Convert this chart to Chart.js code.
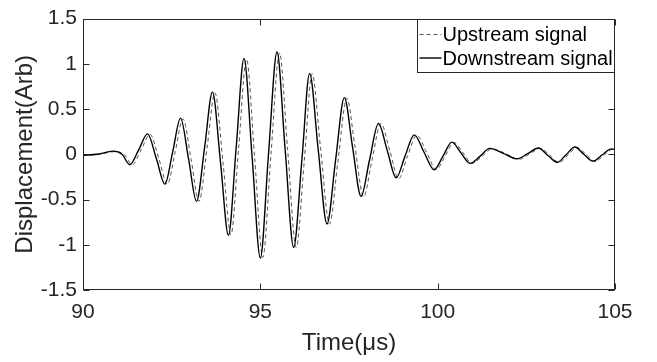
<!DOCTYPE html>
<html>
<head>
<meta charset="utf-8">
<script src="https://cdn.jsdelivr.net/npm/chart.js@4/dist/chart.umd.min.js"></script>
<style>
  html, body { margin: 0; padding: 0; background: #ffffff; }
  #c { display: block; }
</style>
</head>
<body>
<canvas id="c" width="657" height="362"></canvas>
<script>
// ---- Data ----
const seriesNames = ['Upstream signal', 'Downstream signal'];

// Upstream (dashed) signal: time (µs) and displacement (Arb)
const upTime = [90.0, 90.45, 90.9, 91.16, 91.39, 91.64, 91.89, 92.14, 92.38, 92.6,
  92.82, 93.05, 93.27, 93.5, 93.72, 93.95, 94.17, 94.39, 94.61, 94.84,
  95.07, 95.3, 95.54, 95.77, 96.01, 96.24, 96.46, 96.7, 96.95, 97.19,
  97.44, 97.67, 97.91, 98.15, 98.4, 98.65, 98.9, 99.15, 99.41, 99.69,
  99.96, 100.21, 100.46, 100.71, 100.97, 101.26, 101.53, 101.91, 102.29, 102.61,
  102.9, 103.16, 103.43, 103.68, 103.93, 104.18, 104.44, 104.7, 104.96, 105.0];
const upValue = [-0.01, 0.0, 0.03, 0.0, -0.115, 0.05, 0.22, -0.05, -0.33, 0.03,
  0.39, -0.06, -0.52, 0.08, 0.68, -0.1, -0.89, 0.08, 1.05, -0.04,
  -1.14, 0.0, 1.12, 0.05, -1.03, -0.07, 0.89, 0.06, -0.77, -0.07,
  0.62, 0.08, -0.47, -0.06, 0.34, 0.04, -0.27, -0.02, 0.21, 0.02,
  -0.17, -0.02, 0.13, 0.02, -0.1, -0.02, 0.06, 0.01, -0.055, 0.01,
  0.065, -0.01, -0.09, -0.005, 0.075, 0.0, -0.08, -0.005, 0.06, 0.055];

// Downstream (solid) signal
const downTime = [90.0, 90.4, 90.85, 91.1, 91.32, 91.57, 91.82, 92.07, 92.31, 92.53,
  92.75, 92.98, 93.2, 93.43, 93.65, 93.88, 94.1, 94.32, 94.54, 94.77,
  95.0, 95.23, 95.47, 95.7, 95.94, 96.17, 96.39, 96.63, 96.88, 97.12,
  97.37, 97.6, 97.84, 98.08, 98.33, 98.58, 98.83, 99.08, 99.34, 99.62,
  99.9, 100.15, 100.4, 100.65, 100.91, 101.2, 101.47, 101.85, 102.23, 102.55,
  102.84, 103.1, 103.37, 103.62, 103.87, 104.12, 104.38, 104.64, 104.9, 105.0];
const downValue = [-0.01, 0.0, 0.035, 0.0, -0.115, 0.05, 0.226, -0.05, -0.33, 0.03,
  0.40, -0.06, -0.52, 0.08, 0.69, -0.1, -0.895, 0.08, 1.06, -0.04,
  -1.147, 0.0, 1.13, 0.05, -1.03, -0.07, 0.895, 0.06, -0.77, -0.07,
  0.627, 0.08, -0.465, -0.06, 0.34, 0.04, -0.26, -0.02, 0.215, 0.02,
  -0.17, -0.02, 0.135, 0.02, -0.1, -0.02, 0.065, 0.01, -0.05, 0.01,
  0.07, -0.01, -0.09, -0.005, 0.08, 0.0, -0.075, -0.005, 0.06, 0.05];

const xTickValues = [90, 95, 100, 105];
const yTickValues = [-1.5, -1, -0.5, 0, 0.5, 1, 1.5];
const xTitle = 'Time(\u03bcs)';
const yTitle = 'Displacement(Arb)';

// ---- Styling ----
const AXIS = '#262626';
const FONT = '"Liberation Sans", Arial, Helvetica, sans-serif';

function pairs(xs, ys) { return xs.map((x, i) => ({ x: x, y: ys[i] })); }

const frameAndLegend = {
  id: 'frameAndLegend',
  afterDatasetsDraw(chart) {
    const ctx = chart.ctx;
    const a = chart.chartArea;
    const xs = chart.scales.x, ys = chart.scales.y;
    const L = Math.round(a.left) + 0.5, R = Math.round(a.right) - 0.5;
    const T = Math.round(a.top) + 0.5, B = Math.round(a.bottom) - 0.5;
    ctx.save();
    ctx.strokeStyle = AXIS;
    ctx.lineWidth = 1;
    ctx.setLineDash([]);
    ctx.strokeRect(L, T, R - L, B - T);
    const TL = 6;
    ctx.beginPath();
    xTickValues.forEach(v => {
      const p = Math.round(xs.getPixelForValue(v)) + 0.5;
      ctx.moveTo(p, B); ctx.lineTo(p, B - TL);
      ctx.moveTo(p, T); ctx.lineTo(p, T + TL);
    });
    yTickValues.forEach(v => {
      const p = Math.round(ys.getPixelForValue(v)) + 0.5;
      ctx.moveTo(L, p); ctx.lineTo(L + TL, p);
      ctx.moveTo(R, p); ctx.lineTo(R - TL, p);
    });
    ctx.stroke();

    // Legend box (top-right, inside the axes)
    const lw = 197, lh = 53;
    const lx = R - lw, ly = T;
    ctx.fillStyle = '#ffffff';
    ctx.fillRect(lx, ly, lw, lh);
    ctx.strokeRect(lx, ly, lw, lh);
    ctx.font = '20px ' + FONT;
    ctx.textBaseline = 'middle';
    ctx.textAlign = 'left';
    chart.data.datasets.forEach((ds, i) => {
      const cy = ly + 15 + i * 23.5;
      ctx.beginPath();
      ctx.strokeStyle = ds.borderColor;
      ctx.lineWidth = ds.borderWidth;
      ctx.setLineDash(ds.borderDash || []);
      ctx.moveTo(lx + 2, cy); ctx.lineTo(lx + 24, cy);
      ctx.stroke();
      ctx.setLineDash([]);
      ctx.fillStyle = '#000000';
      ctx.fillText(ds.label, lx + 25, cy + 1);
    });
    ctx.restore();
  }
};

new Chart(document.getElementById('c'), {
  type: 'line',
  data: {
    datasets: [
      {
        label: seriesNames[0],
        data: pairs(upTime, upValue),
        borderColor: '#555555',
        borderWidth: 1,
        borderDash: [4, 3],
        pointRadius: 0,
        cubicInterpolationMode: 'monotone',
        fill: false,
        order: 1
      },
      {
        label: seriesNames[1],
        data: pairs(downTime, downValue),
        borderColor: '#000000',
        borderWidth: 1.4,
        pointRadius: 0,
        cubicInterpolationMode: 'monotone',
        fill: false,
        order: 0
      }
    ]
  },
  options: {
    responsive: false,
    animation: false,
    devicePixelRatio: 1,
    layout: { padding: { top: 11, right: 42, left: 0, bottom: 0 } },
    plugins: { legend: { display: false }, tooltip: { enabled: false } },
    scales: {
      x: {
        type: 'linear',
        min: 90, max: 105,
        afterFit(s) { s.height = 72; },
        afterBuildTicks(s) { s.ticks = xTickValues.map(v => ({ value: v })); },
        grid: { display: false, drawTicks: false },
        border: { display: false },
        ticks: { color: AXIS, font: { family: FONT, size: 21 }, padding: 10, maxRotation: 0,
                 callback: v => String(v) },
        title: { display: true, text: xTitle, color: AXIS, font: { family: FONT, size: 24 }, padding: { top: 0, bottom: 4 } }
      },
      y: {
        type: 'linear',
        min: -1.5, max: 1.5,
        afterFit(s) { s.width = 83; },
        afterBuildTicks(s) { s.ticks = yTickValues.map(v => ({ value: v })); },
        grid: { display: false, drawTicks: false },
        border: { display: false },
        ticks: { color: AXIS, font: { family: FONT, size: 21 }, padding: 6,
                 callback: v => String(v) },
        title: { display: true, text: yTitle, color: AXIS, font: { family: FONT, size: 24 }, padding: { top: 11, bottom: 0 } }
      }
    }
  },
  plugins: [frameAndLegend]
});
</script>
</body>
</html>
